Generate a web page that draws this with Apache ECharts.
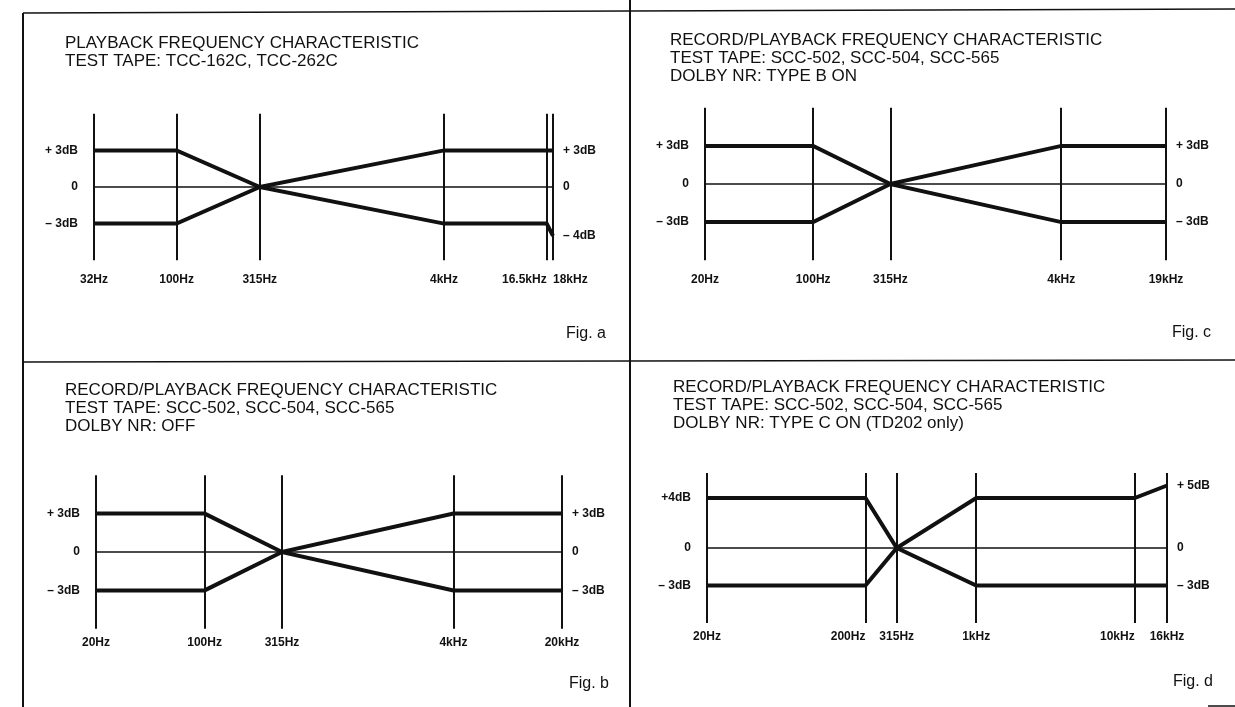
<!DOCTYPE html>
<html><head><meta charset="utf-8">
<script src="https://cdn.jsdelivr.net/npm/echarts@6/dist/echarts.min.js"></script>
<style>html,body{margin:0;padding:0;background:#fff}#c{width:1235px;height:707px}</style>
</head><body><div id="c"></div><script>
// ---- Fig. a ----
const figAFreqs = [32, 100, 315, 4000, 16500, 18000];
const figAFreqLabels = ['32Hz', '100Hz', '315Hz', '4kHz', '16.5kHz', '18kHz'];
const figAUpper = [3, 3, 0, 3, 3, 3];
const figALower = [-3, -3, 0, -3, -3, -4];
const figALeftTicks = [3, 0, -3];
const figALeftTickLabels = ['+ 3dB', '0', '– 3dB'];
const figARightTicks = [3, 0, -4];
const figARightTickLabels = ['+ 3dB', '0', '– 4dB'];
const figATitle = ['PLAYBACK FREQUENCY CHARACTERISTIC', 'TEST TAPE: TCC-162C, TCC-262C'];
// ---- Fig. c ----
const figCFreqs = [20, 100, 315, 4000, 19000];
const figCFreqLabels = ['20Hz', '100Hz', '315Hz', '4kHz', '19kHz'];
const figCUpper = [3, 3, 0, 3, 3];
const figCLower = [-3, -3, 0, -3, -3];
const figCLeftTicks = [3, 0, -3];
const figCLeftTickLabels = ['+ 3dB', '0', '– 3dB'];
const figCRightTicks = [3, 0, -3];
const figCRightTickLabels = ['+ 3dB', '0', '– 3dB'];
const figCTitle = ['RECORD/PLAYBACK FREQUENCY CHARACTERISTIC', 'TEST TAPE: SCC-502, SCC-504, SCC-565', 'DOLBY NR: TYPE B ON'];
// ---- Fig. b ----
const figBFreqs = [20, 100, 315, 4000, 20000];
const figBFreqLabels = ['20Hz', '100Hz', '315Hz', '4kHz', '20kHz'];
const figBUpper = [3, 3, 0, 3, 3];
const figBLower = [-3, -3, 0, -3, -3];
const figBLeftTicks = [3, 0, -3];
const figBLeftTickLabels = ['+ 3dB', '0', '– 3dB'];
const figBRightTicks = [3, 0, -3];
const figBRightTickLabels = ['+ 3dB', '0', '– 3dB'];
const figBTitle = ['RECORD/PLAYBACK FREQUENCY CHARACTERISTIC', 'TEST TAPE: SCC-502, SCC-504, SCC-565', 'DOLBY NR: OFF'];
// ---- Fig. d ----
const figDFreqs = [20, 200, 315, 1000, 10000, 16000];
const figDFreqLabels = ['20Hz', '200Hz', '315Hz', '1kHz', '10kHz', '16kHz'];
const figDUpper = [4, 4, 0, 4, 4, 5];
const figDLower = [-3, -3, 0, -3, -3, -3];
const figDLeftTicks = [4, 0, -3];
const figDLeftTickLabels = ['+4dB', '0', '– 3dB'];
const figDRightTicks = [5, 0, -3];
const figDRightTickLabels = ['+ 5dB', '0', '– 3dB'];
const figDTitle = ['RECORD/PLAYBACK FREQUENCY CHARACTERISTIC', 'TEST TAPE: SCC-502, SCC-504, SCC-565', 'DOLBY NR: TYPE C ON (TD202 only)'];

const INK = '#111';
const FONT = '"Liberation Sans", Arial, Helvetica, sans-serif';

const panels = [
  { name: 'Fig. a', freqs: figAFreqs, freqLabels: figAFreqLabels, upper: figAUpper, lower: figALower,
    lt: figALeftTicks, ltl: figALeftTickLabels, rt: figARightTicks, rtl: figARightTickLabels, title: figATitle,
    layout: { left: 94, right: 553, zeroY: 187, k: 12.2, titleX: 65, titleY: 34, figX: 566, figY: 326, dist: 13, align: { 4: 'right', 5: 'left' } } },
  { name: 'Fig. c', freqs: figCFreqs, freqLabels: figCFreqLabels, upper: figCUpper, lower: figCLower,
    lt: figCLeftTicks, ltl: figCLeftTickLabels, rt: figCRightTicks, rtl: figCRightTickLabels, title: figCTitle,
    layout: { left: 705, right: 1166, zeroY: 184, k: 12.7, titleX: 670, titleY: 31, figX: 1172, figY: 325, dist: 13, align: {} } },
  { name: 'Fig. b', freqs: figBFreqs, freqLabels: figBFreqLabels, upper: figBUpper, lower: figBLower,
    lt: figBLeftTicks, ltl: figBLeftTickLabels, rt: figBRightTicks, rtl: figBRightTickLabels, title: figBTitle,
    layout: { left: 96, right: 562, zeroY: 552, k: 12.8, titleX: 65, titleY: 381, figX: 569, figY: 676, dist: 8, align: {} } },
  { name: 'Fig. d', freqs: figDFreqs, freqLabels: figDFreqLabels, upper: figDUpper, lower: figDLower,
    lt: figDLeftTicks, ltl: figDLeftTickLabels, rt: figDRightTicks, rtl: figDRightTickLabels, title: figDTitle,
    layout: { left: 707, right: 1167, zeroY: 548, k: 12.5, titleX: 673, titleY: 378, figX: 1173, figY: 674, dist: 8, align: { 1: 'right', 4: 'right' } } }
];

const grid = [], xAxis = [], yAxis = [], series = [], title = [];
const tickFont = { fontSize: 12, fontWeight: 'bold', color: INK, fontFamily: FONT };

panels.forEach((p, i) => {
  const L = p.layout;
  grid.push({ left: L.left, top: L.zeroY - 6 * L.k, width: L.right - L.left, height: 12 * L.k });
  xAxis.push({ type: 'log', logBase: 10, gridIndex: i, min: p.freqs[0], max: p.freqs[p.freqs.length - 1],
    axisLine: { show: false }, axisTick: { show: false }, axisLabel: { show: false }, splitLine: { show: false } });
  const mkY = (pos, ticks, texts, margin) => ({
    type: 'value', gridIndex: i, position: pos, min: -6, max: 6, interval: 1,
    axisLine: { show: false }, axisTick: { show: false }, splitLine: { show: false },
    axisLabel: Object.assign({ margin: margin, formatter: v => { const j = ticks.indexOf(v); return j >= 0 ? texts[j] : ''; } }, tickFont)
  });
  yAxis.push(mkY('left', p.lt, p.ltl, 16));
  yAxis.push(mkY('right', p.rt, p.rtl, 10));
  const vLines = p.freqs.map((f, j) => ({
    xAxis: f, name: p.freqLabels[j],
    label: Object.assign({ show: true, position: 'start', distance: L.dist, formatter: '{b}', align: L.align[j] || 'center' }, tickFont)
  }));
  vLines.push({ yAxis: 0, lineStyle: { width: 1.5 }, label: { show: false } });
  series.push({
    type: 'line', xAxisIndex: i, yAxisIndex: 2 * i, showSymbol: false, symbol: 'none',
    data: p.freqs.map((f, j) => [f, p.upper[j]]),
    lineStyle: { color: INK, width: 4, join: 'miter' },
    markLine: { silent: true, symbol: ['none', 'none'], animation: false,
      lineStyle: { color: INK, width: 2, type: 'solid' }, data: vLines }
  });
  series.push({
    type: 'line', xAxisIndex: i, yAxisIndex: 2 * i, showSymbol: false, symbol: 'none',
    data: p.freqs.map((f, j) => [f, p.lower[j]]),
    lineStyle: { color: INK, width: 4, join: 'miter' }
  });
  title.push({ text: p.title.join('\n'), left: L.titleX, top: L.titleY, padding: 0,
    textStyle: { fontSize: 17, fontWeight: 'normal', lineHeight: 18, color: INK, fontFamily: FONT } });
  title.push({ text: p.name, left: L.figX, top: L.figY, padding: 0,
    textStyle: { fontSize: 16, fontWeight: 'normal', color: INK, fontFamily: FONT } });
});

const frame = (x1, y1, x2, y2, w) => ({ type: 'line', silent: true, shape: { x1, y1, x2, y2 }, style: { stroke: INK, lineWidth: w } });

const chart = echarts.init(document.getElementById('c'));
chart.setOption({
  animation: false,
  backgroundColor: '#fff',
  title, grid, xAxis, yAxis, series,
  graphic: [
    frame(23, 13, 23, 707, 2),
    frame(23, 13, 1235, 9, 1.5),
    frame(630, 0, 630, 707, 2),
    frame(23, 362, 1235, 360, 1.5),
    frame(1208, 706, 1235, 706, 1.5)
  ]
});
</script></body></html>
